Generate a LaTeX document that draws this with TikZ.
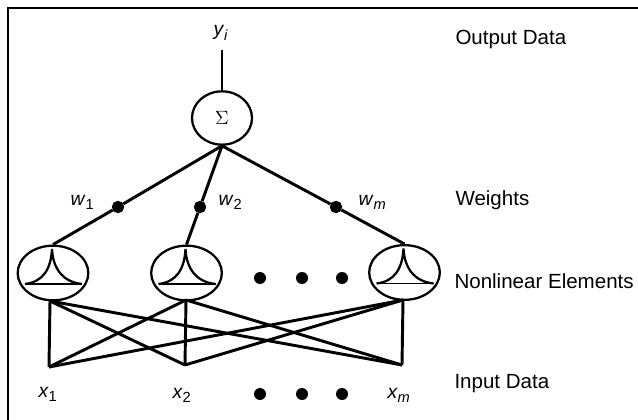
\documentclass[tikz,border=0pt]{standalone}
\usepackage{fontspec}
\setmainfont{Liberation Sans}
\usetikzlibrary{shapes.geometric}
\newcommand{\subtext}[2]{\textit{#1}\raisebox{-3.7pt}{\fontsize{11}{11}\selectfont #2}}
\tikzset{every picture/.style={line width=0.75pt}}
\tikzset{
	elem/.style={draw,ellipse,line width=1.7pt,inner sep=0pt,minimum width=53pt,minimum height=41pt},
	weightdot/.style={draw,circle,fill=black,inner sep=0pt,minimum size=8.5pt},
	gapdot/.style={circle,fill=black,inner sep=0pt,minimum size=9pt},
	wire/.style={line width=2.2pt},
	lbl/.style={inner sep=0pt,anchor=base west,font=\fontsize{15.4}{18}\selectfont},
	sublbl/.style={inner sep=0pt,anchor=base west,font=\fontsize{14.5}{18}\selectfont}
}

\begin{document}
\begin{tikzpicture}[x=0.75pt,y=0.75pt,yscale=-1,xscale=1]
	\useasboundingbox (0,0) rectangle (638,420);
	
	%Shape: Frame
	\draw [line width=1.2pt] (8,420) -- (8,8) -- (638,8);
	
	%Shape: Sum
	\node (sum) [draw,ellipse,line width=1.7pt,inner sep=0pt,minimum width=45pt,minimum height=40pt] at (222,118) {\Large$\Sigma$};
	%Shape: Elements
	\node (e1) [elem] at (53,273) {};
	\node (e2) [elem] at (186.5,273) {};
	\node (e3) [elem] at (404.5,272.5) {};
	
	%Shape: Inner curves
	\foreach \e in {e1,e2,e3}{
		\draw [line width=1.7pt,shift={(\e.center)}] (-28,11) .. controls (-10,9) and (-2,-4) .. (-1,-24) .. controls (0,-4) and (10,9) .. (29,11) ;
		\draw [line width=1.2pt,shift={(\e.center)}] (-28,11) -- (29,11) ;
	}
	
	%Shape: Joints
	\coordinate (y) at (222,50);
	\coordinate (x1) at (49,367);
	\coordinate (x2) at (185,365);
	\coordinate (x3) at (402,365);
	\coordinate (t1) at (50,301);
	\coordinate (t2) at (186,300);
	\coordinate (t3) at (403,300);
	
	%Shape: Weights
	\node (w1) [weightdot] at (118,207) {};
	\node (w2) [weightdot] at (200,207) {};
	\node (w3) [weightdot] at (336,207) {};
	
	%Straight Lines
	\draw [wire] (y) -- (sum.north) ;
	\draw [wire] (sum.south) -- (w1) -- (e1.north) ;
	\draw [wire] (sum.south) -- (w2) -- (e2.north) ;
	\draw [wire] (sum.south) -- (w3) -- (e3.north) ;
	\foreach \i in {1,2,3}{
		\foreach \j in {1,2,3}{
			\draw [wire] (x\i) -- (t\j) ;
		}
	}
	
	%Shape: Gap dots
	\foreach \x in {260,302,342}{
		\node (mid\x) [gapdot] at (\x,278) {};
		\node (low\x) [gapdot] at (\x,394) {};
	}
	
	% Text Node
	\node (ylbl) [sublbl] at (213,36) {\subtext{y}{\textit{i}}};
	\node (w1lbl) [sublbl] at (70,205) {\subtext{w}{1}};
	\node (w2lbl) [sublbl] at (218,205) {\subtext{w}{2}};
	\node (w3lbl) [sublbl] at (358,205) {\subtext{w}{\textit{m}}};
	\node (x1lbl) [sublbl] at (38,397) {\subtext{x}{1}};
	\node (x2lbl) [sublbl] at (172,398) {\subtext{x}{2}};
	\node (x3lbl) [sublbl] at (387,398) {\subtext{x}{\textit{m}}};
	% Text Node
	\node (outlbl) [lbl] at (455,45) {Output Data};
	\node (weilbl) [lbl] at (455,205) {Weights};
	\node (nonlbl) [lbl] at (454,288) {Nonlinear Elements};
	\node (inplbl) [lbl] at (454,388) {Input Data};
	
\end{tikzpicture}
\end{document}
